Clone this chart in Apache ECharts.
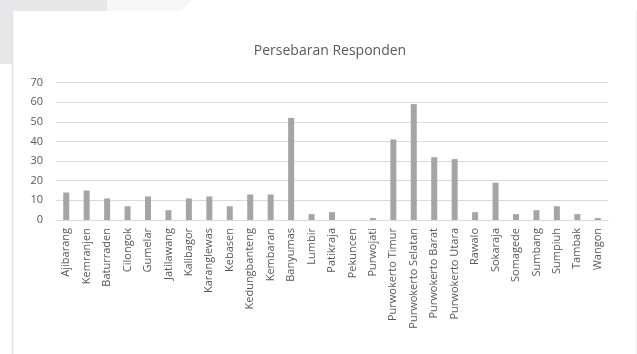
<!DOCTYPE html>
<html>
<head>
<meta charset="utf-8">
<script src="https://cdn.jsdelivr.net/npm/echarts@6/dist/echarts.min.js"></script>
<style>
html,body{margin:0;padding:0;background:#fff;}
#chart{width:637px;height:354px;}
</style>
</head>
<body>
<div id="chart"></div>
<script>
const categories = ["Ajibarang","Kemranjen","Baturraden","Cilongok","Gumelar","Jatilawang","Kalibagor","Karanglewas","Kebasen","Kedungbanteng","Kembaran","Banyumas","Lumbir","Patikraja","Pekuncen","Purwojati","Purwokerto Timur","Purwokerto Selatan","Purwokerto Barat","Purwokerto Utara","Rawalo","Sokaraja","Somagede","Sumbang","Sumpiuh","Tambak","Wangon"];
const values = [14,15,11,7,12,5,11,12,7,13,13,52,3,4,0,1,41,59,32,31,4,19,3,5,7,3,1];
const titleText = "Persebaran Responden";
const yMin = 0, yMax = 70, yStep = 10;

const chart = echarts.init(document.getElementById('chart'), null, {renderer:'canvas'});
chart.setOption({
  animation:false,
  backgroundColor:'#ffffff',
  graphic:[
    {type:'rect', z:-10, shape:{x:0,y:0,width:107,height:64}, style:{fill:'#e7e7e9'}},
    {type:'polygon', z:-10, shape:{points:[[107,0],[192,0],[181,11],[107,11]]}, style:{fill:'#f6f6f7'}},
    {type:'rect', z:-9, shape:{x:12,y:11,width:624,height:343}, style:{fill:'#ffffff'}},
    {type:'line', z:-8, shape:{x1:12.5,y1:11,x2:12.5,y2:354}, style:{stroke:'#e2e2e2',lineWidth:1.5}},
    {type:'line', z:-8, shape:{x1:636.5,y1:11,x2:636.5,y2:354}, style:{stroke:'#f0f0f0',lineWidth:1}}
  ],
  title:{
    text:titleText, left:325, top:39, textAlign:'center',
    textStyle:{fontFamily:'Open Sans', fontSize:14, fontWeight:'normal', color:'#595959'}
  },
  grid:{left:56, right:29, top:82.5, bottom:134, containLabel:false},
  xAxis:{
    type:'category', data:categories,
    axisLine:{lineStyle:{color:'#d9d9d9', width:1}},
    axisTick:{show:false},
    axisLabel:{rotate:90, interval:0, fontFamily:'Open Sans', fontSize:11, color:'#595959', margin:8}
  },
  yAxis:{
    type:'value', min:yMin, max:yMax, interval:yStep,
    axisLine:{show:false}, axisTick:{show:false},
    splitLine:{lineStyle:{color:'#d9d9d9', width:1}},
    axisLabel:{fontFamily:'Open Sans', fontSize:11, color:'#595959', margin:13}
  },
  series:[{
    type:'bar', data:values, barWidth:6,
    itemStyle:{color:'#a5a5a5'}
  }]
});
</script>
</body>
</html>
